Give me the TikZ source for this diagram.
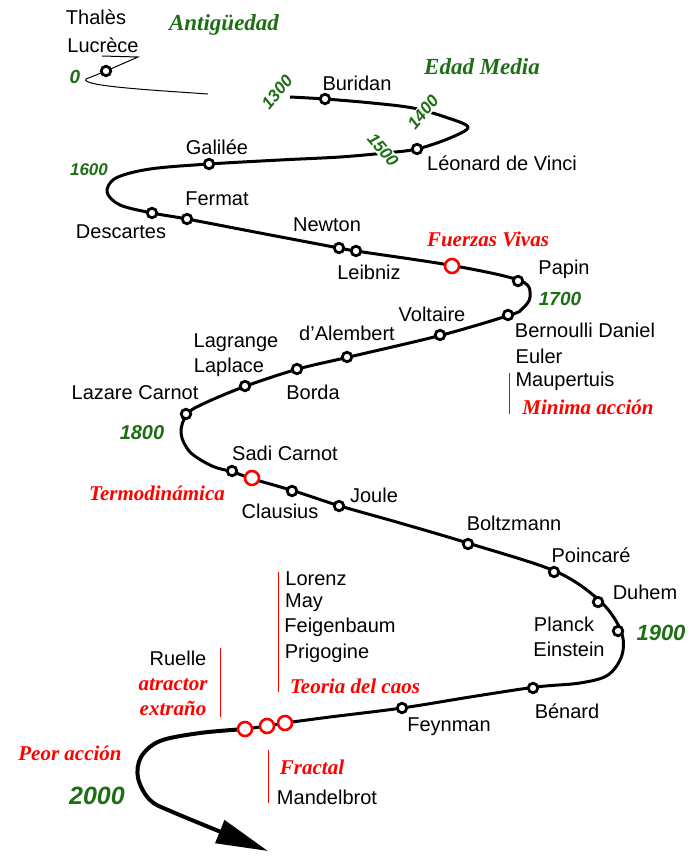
\documentclass[tikz,border=0pt]{standalone}
\usepackage{fontspec}
\setmainfont{Liberation Sans}
\newfontfamily\calli{Liberation Serif}
\usetikzlibrary{arrows.meta, positioning}
\definecolor{epoch}{RGB}{30,110,20}

\begin{document}
\begin{tikzpicture}[x=1pt, y=-1pt,
  sage/.style={circle, draw, line width=2.8pt, fill=white, inner sep=0pt, minimum size=9.5pt},
  idea/.style={circle, draw=red, line width=2.6pt, fill=white, inner sep=0pt, minimum size=14pt},
  who/.style={font=\fontsize{20}{22}\selectfont, inner sep=0pt},
  era/.style={font=\calli\bfseries\itshape\fontsize{23}{26}\selectfont, text=epoch, inner sep=0pt},
  notion/.style={font=\calli\bfseries\itshape\fontsize{21}{24}\selectfont, text=red, inner sep=0pt},
  yr/.style={font=\bfseries\itshape\fontsize{17}{20}\selectfont, text=epoch, inner sep=1pt},
  bar/.style={red, line width=0.8pt}
]
\useasboundingbox (0,0) rectangle (700,858);

% Antiquity, thin
\draw[line width=1pt] (208,94) .. controls (150,90) and (80,86) .. (86,79)
  -- (106,71) -- (138,57) -- (102,56);

% Main course of time
\draw[line width=3pt, line join=round] plot[smooth, tension=0.55] coordinates {
  (290,97) (325,99) (372,103) (413,108) (445,117) (468,127) (450,138)
  (417,149) (385,153) (340,157) (280,160) (209,164) (150,169) (116,178)
  (107,192) (120,205) (152,213) (187,219) (260,233) (339,248) (356,251)
  (455,266) (521,281) (530,297) (522,309) (510,315) (442,335) (349,357)
  (298,369) (246,386) (205,403) (187,414) (181,433) (190,452) (212,466)
  (233,472) (253,479) (294,491) (340,506) (400,523) (471,544) (557,572)
  (601,602) (621,631) (622,655) (608,675) (580,683) (536,687) (470,697)
  (402,708) (330,717) (285,723) (267,726) (245,729)};

% Toward the future
\draw[line width=4pt, -{Triangle[length=52pt, width=24pt]}]
  plot[smooth, tension=0.55] coordinates {
  (245,729) (200,733) (160,741) (141,757) (138,778) (150,800) (175,813) (268,851)};

% Year marks
\node[yr, font=\bfseries\itshape\fontsize{19}{22}\selectfont] (y0) at (75,77) {0};
\node[yr, fill=white, rotate=50] (y1300) at (277,92) {1300};
\node[yr, fill=white, rotate=50] (y1400) at (423,112) {1400};
\node[yr, fill=white, rotate=-50] (y1500) at (383,150) {1500};
\node[yr] (y1600) at (89,170) {1600};
\node[yr, font=\bfseries\itshape\fontsize{19}{22}\selectfont] (y1700) at (560,299) {1700};
\node[yr, font=\bfseries\itshape\fontsize{20}{22}\selectfont] (y1800) at (142,433) {1800};
\node[yr, font=\bfseries\itshape\fontsize{22}{24}\selectfont] (y1900) at (661,633) {1900};
\node[yr, font=\bfseries\itshape\fontsize{25}{28}\selectfont] (y2000) at (97,796) {2000};

% Ages
\node[era] (antiq) at (224,25) {Antigüedad};
\node[era] (medio) at (482,67) {Edad Media};

% Scholars on the line
\node[sage] (lucrece) at (106,71) {};
\node[sage] (buridan) at (325,99) {};
\node[sage] (vinci) at (417,149) {};
\node[sage] (galilee) at (209,164) {};
\node[sage] (descartes) at (152,213) {};
\node[sage] (fermat) at (187,219) {};
\node[sage] (newton) at (339,248) {};
\node[sage] (leibniz) at (356,251) {};
\node[idea] (vivas) at (452,266) {};
\node[sage] (papin) at (518,281) {};
\node[sage] (bernoulli) at (508,315) {};
\node[sage] (voltaire) at (440,335) {};
\node[sage] (alembert) at (347,357) {};
\node[sage] (borda) at (297,369) {};
\node[sage] (laplace) at (245,386) {};
\node[sage] (lcarnot) at (186,414) {};
\node[sage] (scarnot) at (232,471) {};
\node[idea] (thermo) at (252,478) {};
\node[sage] (clausius) at (292,491) {};
\node[sage] (joule) at (339,506) {};
\node[sage] (boltzmann) at (468,544) {};
\node[sage] (poincare) at (554,572) {};
\node[sage] (duhem) at (598,602) {};
\node[sage] (planck) at (618,631) {};
\node[sage] (benard) at (533,688) {};
\node[sage] (feynman) at (402,708) {};
\node[idea] (caos) at (285,723) {};
\node[idea] (ruelle) at (267,726) {};
\node[idea] (fractal) at (245,729) {};

% Names
\node[who] (tThales) at (96,17) {Thalès};
\node[who] (tLucrece) at (103,45) {Lucrèce};
\node[who] (tBuridan) at (357,83) {Buridan};
\node[who] (tVinci) at (502,163) {Léonard de Vinci};
\node[who] (tGalilee) at (217,147) {Galilée};
\node[who] (tFermat) at (217,199) {Fermat};
\node[who] (tDescartes) at (121,232) {Descartes};
\node[who] (tNewton) at (327,225) {Newton};
\node[who] (tLeibniz) at (369,272) {Leibniz};
\node[who] (tPapin) at (564,269) {Papin};
\node[who] (tVoltaire) at (432,314) {Voltaire};
\node[who] (tBernoulli) at (585,330) {Bernoulli Daniel};
\node[who] (tEuler) at (539,356) {Euler};
\node[who] (tMaupertuis) at (565,381) {Maupertuis};
\node[who] (tAlembert) at (347,333) {d'Alembert};
\node[who] (tLagrange) at (236,343) {Lagrange};
\node[who] (tLaplace) at (229,367) {Laplace};
\node[who] (tBorda) at (313,392) {Borda};
\node[who] (tLCarnot) at (135,393) {Lazare Carnot};
\node[who] (tSCarnot) at (285,453) {Sadi Carnot};
\node[who] (tClausius) at (280,511) {Clausius};
\node[who] (tJoule) at (374,495) {Joule};
\node[who] (tBoltzmann) at (514,523) {Boltzmann};
\node[who] (tPoincare) at (591,555) {Poincaré};
\node[who] (tDuhem) at (645,592) {Duhem};
\node[who] (tPlanck) at (564,624) {Planck};
\node[who] (tEinstein) at (569,649) {Einstein};
\node[who] (tBenard) at (567,711) {Bénard};
\node[who] (tFeynman) at (449,727) {Feynman};
\node[who] (tLorenz) at (316,579) {Lorenz};
\node[who] (tMay) at (304,603) {May};
\node[who] (tFeigenbaum) at (340,627) {Feigenbaum};
\node[who] (tPrigogine) at (327,653) {Prigogine};
\node[who] (tRuelle) at (178,658) {Ruelle};
\node[who] (tMandelbrot) at (327,797) {Mandelbrot};

% Ideas
\node[notion] (nVivas) at (488,239) {Fuerzas Vivas};
\node[notion] (nMinima) at (588,407) {Minima acción};
\node[notion] (nThermo) at (157,493) {Termodinámica};
\node[notion] (nCaos) at (355,686) {Teoria del caos};
\node[notion] (nAtractor) at (173,685) {atractor};
\node[notion] (nExtrano) at (173,708) {extraño};
\node[notion] (nPeor) at (70,753) {Peor acción};
\node[notion] (nFractal) at (312,767) {Fractal};

% Side bars
\draw[bar] (509,373) -- (509,414);
\draw[bar] (278,572) -- (278,692);
\draw[bar] (220,648) -- (220,717);
\draw[bar] (268,750) -- (268,803);

\end{tikzpicture}
\end{document}
